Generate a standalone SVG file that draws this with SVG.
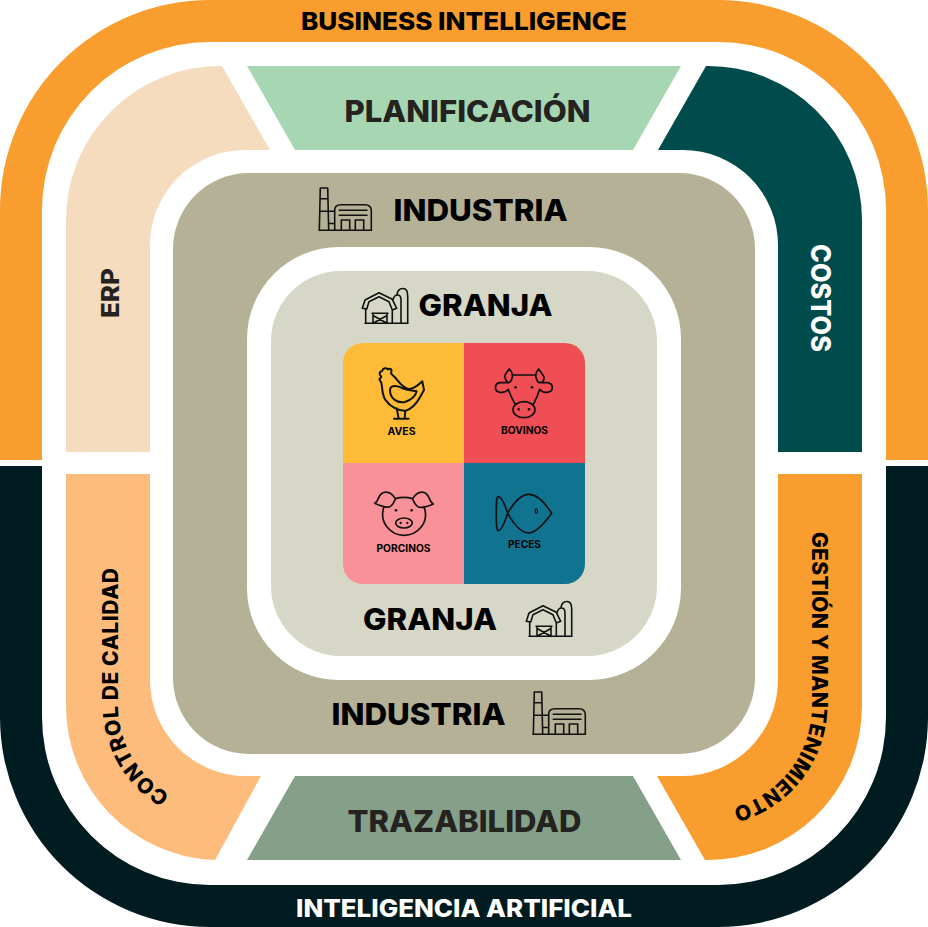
<svg xmlns="http://www.w3.org/2000/svg" xmlns:xlink="http://www.w3.org/1999/xlink" width="928" height="927" viewBox="0 0 928 927">
<style>
text{font-family:"Inter","Liberation Sans",Arial,sans-serif;font-weight:800;fill:#000;text-anchor:middle}
.d{fill:#24231f}
.w{fill:#fff}
.ic{fill:none;stroke:#111;stroke-linecap:round;stroke-linejoin:round}
.z{stroke-width:5}
.p{stroke-width:1.6}
.sm{font-size:10px;font-weight:700}
.cv{font-size:21px;text-anchor:start}
</style>
<defs>
<path id="pc" d="M170,794.500 A103,103 0 0 1 118,705 L118,500"/>
<path id="pg" d="M812,500 L812,705 A106,106 0 0 1 700,811"/>
<g id="factory" class="ic p">
<path d="M319,230.300 H371.500 M320.300,188 H327.700 L328.700,230.300 M320.300,188 L319.300,230.300 M320,198.700 H328 M319.700,211.300 H334.700 M328.700,223.500 H334.700 M334.700,230.300 V210 Q334.700,204.700 341,204.700 H365 Q371.300,204.700 371.300,211 V230.300 M339.300,210.300 H367 M339.300,215.300 H367 M341.300,230.300 V220 H349.700 V230.300 M355.300,230.300 V220 H363.700 V230.300"/>
</g>
<g id="barn" class="ic p">
<path d="M362.300,308.300 L365,300 L379,292.700 L392.300,299.300 L396.700,308.300 L392.300,310 L389,301.700 L379,296.700 L369,301.700 L366.700,309 Z M365,323.300 H408 M365.700,309 V323.300 M392.300,310 V323.300 M372,313.300 H388 M373,313.300 V323.300 M387,313.300 V323.300 M373,315.500 L387,323.300 M387,315.500 L373,323.300 M393,300 Q394,295 397.500,295 Q401,295 401,300 V323.300 M397,295 Q397.500,288.500 403,288.500 Q407.700,288.500 407.700,296 V323.300"/>
</g>
</defs>
<rect width="928" height="927" fill="#fff"/>
<g id="business-intelligence">
<path d="M0,460 V210 A210,210 0 0 1 210,0 H718 A210,210 0 0 1 928,210 V460 H886 V210 A168,168 0 0 0 718,42 H210 A168,168 0 0 0 42,210 V460 Z" fill="#f99d2e"/>
<text x="464" y="30" font-size="24" textLength="326" lengthAdjust="spacingAndGlyphs">BUSINESS INTELLIGENCE</text>
</g>
<g id="inteligencia-artificial">
<path d="M0,466 V717 A210,210 0 0 0 210,927 H718 A210,210 0 0 0 928,717 V466 H886 V717 A168,168 0 0 1 718,885 H210 A168,168 0 0 1 42,717 V466 Z" fill="#001c20"/>
<text class="w" x="464" y="917" font-size="24" textLength="336" lengthAdjust="spacingAndGlyphs">INTELIGENCIA ARTIFICIAL</text>
</g>
<g id="erp">
<path d="M66,452 V220 A154,154 0 0 1 222,66 L270,150 H245 A95,95 0 0 0 150,245 V452 Z" fill="#f5dcbf"/>
<text class="d" transform="translate(119,293) rotate(-90)" font-size="24" textLength="50" lengthAdjust="spacingAndGlyphs">ERP</text>
</g>
<g id="planificacion">
<path d="M247,66 H681 L633,150 H295 Z" fill="#a6d7b2"/>
<text class="d" x="467.500" y="122" font-size="30" textLength="246" lengthAdjust="spacingAndGlyphs">PLANIFICACIÓN</text>
</g>
<g id="costos">
<path d="M862,452 V220 A154,154 0 0 0 706,66 L658,150 H683 A95,95 0 0 1 778,245 V452 Z" fill="#004b4b"/>
<text class="w" transform="translate(811,298) rotate(90)" font-size="27" textLength="108" lengthAdjust="spacingAndGlyphs">COSTOS</text>
</g>
<g id="control-calidad">
<path d="M66,474 H150 V680 A96,96 0 0 0 246,776 H261 L215,860 A154,154 0 0 1 66,706 Z" fill="#fdbc7b"/>
<text class="cv" letter-spacing=".55"><textPath href="#pc">CONTROL DE CALIDAD</textPath></text>
</g>
<g id="trazabilidad">
<path d="M295,776 H633 L681,860 H247 Z" fill="#84a088"/>
<text class="d" x="464.500" y="832" font-size="30" textLength="234" lengthAdjust="spacingAndGlyphs">TRAZABILIDAD</text>
</g>
<g id="gestion-mantenimiento">
<path d="M778,474 H862 V706 A154,154 0 0 1 705,860 L657,776 H682 A96,96 0 0 0 778,680 Z" fill="#f99d2e"/>
<text class="cv" letter-spacing=".3"><textPath href="#pg" startOffset="32">GESTIÓN Y MANTENIMIENTO</textPath></text>
</g>
<g id="industria">
<rect x="173" y="173" width="582" height="581" rx="76" fill="#b5b197"/>
<rect x="247" y="247" width="434" height="433" rx="92" fill="#fff"/>
<use href="#factory"/>
<use href="#factory" x="214" y="504"/>
<text x="480.500" y="221" font-size="30" textLength="174" lengthAdjust="spacingAndGlyphs">INDUSTRIA</text>
<text x="418.500" y="725" font-size="30" textLength="174" lengthAdjust="spacingAndGlyphs">INDUSTRIA</text>
</g>
<g id="granja">
<rect x="271" y="271" width="386" height="385" rx="70" fill="#d6d7c6"/>
<use href="#barn"/>
<use href="#barn" x="164" y="313"/>
<text x="485.500" y="316" font-size="30" textLength="134" lengthAdjust="spacingAndGlyphs">GRANJA</text>
<text x="430" y="630" font-size="30" textLength="134" lengthAdjust="spacingAndGlyphs">GRANJA</text>
</g>
<g id="aves">
<path d="M464,343 H363 A20,20 0 0 0 343,363 V463 H464 Z" fill="#fdbb37"/>
<g transform="translate(340,340) scale(.3333)"><path class="ic" stroke-width="6" d="M124,128 L118,118 L124,110 C116,104 118,94 126,94 C128,84 140,82 144,88 C150,84 157,88 154,96 L153,100 C160,108 165,112 170,118 C178,128 188,142 205,147 C220,150 235,135 247,124 L252,150 L240,172 C230,190 218,205 198,212 C175,214 150,200 135,178 C125,160 128,145 124,128 Z M150,150 C152,135 170,135 190,146 C205,152 220,152 230,154 C226,170 215,180 195,186 C170,190 150,175 150,150 Z M170,205 L176,235 M196,212 L194,235 M162,236 H182 M186,236 H206"/></g>
<text class="sm" x="401.500" y="435" textLength="28" lengthAdjust="spacingAndGlyphs">AVES</text>
</g>
<g id="bovinos">
<path d="M464,343 H565 A20,20 0 0 1 585,363 V463 H464 Z" fill="#ee4e54"/>
<g transform="translate(340,340) scale(.3333)"><path class="ic z" d="M516,105 H588 M505,128 C495,122 492,108 498,100 L508,87 C516,95 520,108 516,115 C514,122 510,128 505,128 Z M599,128 C609,128 613,120 612,110 L596,87 C588,95 586,108 589,115 C591,122 595,128 599,128 Z M503,128 H480 C462,130 462,155 480,157 C490,158 500,155 505,148 M601,128 H622 C642,130 642,155 622,157 C612,158 604,155 599,148 M505,148 C510,165 518,178 525,192 M599,148 C594,165 588,178 581,192"/><ellipse class="ic z" cx="552" cy="209" rx="33" ry="24"/><g fill="#111"><circle cx="527" cy="142" r="4"/><circle cx="576" cy="142" r="4"/><circle cx="536" cy="208" r="4"/><circle cx="567" cy="208" r="4"/></g></g>
<text class="sm" x="524.500" y="434" textLength="47" lengthAdjust="spacingAndGlyphs">BOVINOS</text>
</g>
<g id="porcinos">
<path d="M464,463 H343 V564 A20,20 0 0 0 363,584 H464 Z" fill="#f99298"/>
<g transform="translate(340,340) scale(.3333)"><path class="ic z" d="M166,476 C150,450 125,450 115,475 C112,485 108,488 104,490 C122,498 140,505 150,500 C158,495 163,485 166,476 Z M218,476 C234,450 258,450 268,475 C271,485 276,490 280,492 C262,500 244,505 234,500 C226,495 221,485 218,476 Z M166,476 Q192,468 218,476 M132,500 C115,550 155,586 192,586 C230,586 270,550 252,500"/><ellipse class="ic z" cx="192" cy="549" rx="25" ry="15"/><g fill="#111"><circle cx="168" cy="511" r="4"/><circle cx="215" cy="511" r="4"/><circle cx="182" cy="549" r="3.500"/><circle cx="202" cy="549" r="3.500"/></g></g>
<text class="sm" x="403.500" y="552" textLength="54" lengthAdjust="spacingAndGlyphs">PORCINOS</text>
</g>
<g id="peces">
<path d="M464,463 H585 V564 A20,20 0 0 1 565,584 H464 Z" fill="#107491"/>
<g transform="translate(340,340) scale(.3333)"><path class="ic z" d="M635,520 C610,480 585,462 565,463 C540,464 520,490 503,520 C520,550 540,578 565,579 C585,580 610,555 635,520 Z M503,520 C495,495 485,470 475,470 C470,470 469,480 469,520 C469,560 470,572 475,572 C485,572 495,545 503,520 Z"/><ellipse class="ic" stroke-width="3.500" cx="589" cy="513" rx="3.500" ry="6.500"/></g>
<text class="sm" x="524.500" y="548" textLength="33" lengthAdjust="spacingAndGlyphs">PECES</text>
</g>
</svg>
